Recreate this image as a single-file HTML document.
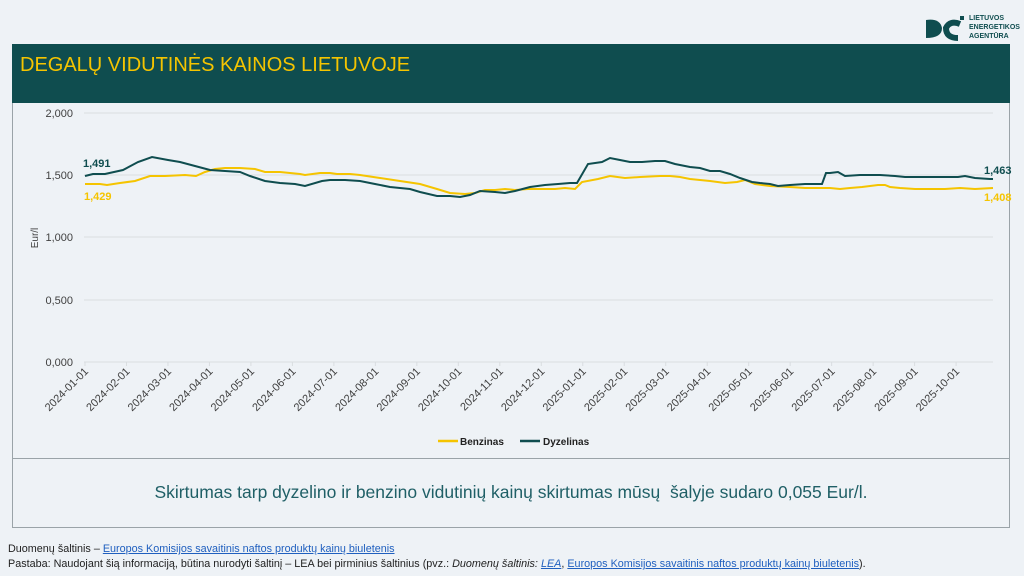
<!DOCTYPE html>
<html><head><meta charset="utf-8"><style>
body{margin:0;width:1024px;height:576px;background:#eef2f6;font-family:"Liberation Sans",sans-serif;position:relative;overflow:hidden}
.box{position:absolute;left:12px;width:998px;border:1px solid #9aa3a8;box-sizing:border-box}
</style></head><body>
<div class="box" style="top:44px;height:415px;"></div>
<div class="box" style="top:458px;height:70px;"></div>
<div style="position:absolute;left:12px;top:44px;width:998px;height:59px;background:#0f4d4f"></div>
<div style="position:absolute;left:20px;top:54px;color:#f5c400;font-size:20px;">DEGALŲ VIDUTINĖS KAINOS LIETUVOJE</div>
<svg style="position:absolute;left:920px;top:12px" width="50" height="30"><path d="M6 26 L6 8 Q20 6 22 16 Q22 26 6 26Z" fill="#0f4d4f"/><path d="M40 12 Q30 8 26 16 Q26 26 38 26" stroke="#0f4d4f" stroke-width="6" fill="none"/><rect x="40" y="4" width="4" height="4" fill="#0f4d4f"/></svg>
<div style="position:absolute;left:969px;top:14px;font-size:7px;line-height:9px;font-weight:bold;color:#0f4d4f">LIETUVOS<br>ENERGETIKOS<br>AGENTŪRA</div>
<svg style="position:absolute;left:0;top:0" width="1024" height="576" font-family="Liberation Sans, sans-serif">
<g stroke="#d9dde0" stroke-width="1">
<line x1="84" x2="993" y1="113" y2="113"/><line x1="84" x2="993" y1="175" y2="175"/><line x1="84" x2="993" y1="237" y2="237"/><line x1="84" x2="993" y1="300" y2="300"/><line x1="84" x2="993" y1="362" y2="362"/>
</g>
<g font-size="11" fill="#404040" text-anchor="end">
<text x="73" y="117">2,000</text><text x="73" y="179">1,500</text><text x="73" y="241">1,000</text><text x="73" y="304">0,500</text><text x="73" y="366">0,000</text>
</g>
<text transform="translate(38,238) rotate(-90)" font-size="10" fill="#404040" text-anchor="middle">Eur/l</text>
<g font-size="11" fill="#404040" text-anchor="end" id="xl"></g>
<polyline fill="none" stroke="#f5c400" stroke-width="2" points="85,184 100,184 107,185 120,183 135,181 150,176 165,176 185,175 196,176 205,172 215,169 225,168 240,168 255,169 265,172 280,172 300,174 305,175 320,173 330,173 337,174 350,174 360,175 380,178 400,181 420,184 437,189 450,193 465,194 475,193 485,190 495,190 505,189 515,190 528,189 540,189 555,189 565,188 575,189 582,182 598,179 610,176 625,178 640,177 660,176 670,176 680,177 690,179 710,181 725,183 737,182 745,180 755,184 770,186 790,187 805,188 815,188 830,188 840,189 850,188 862,187 878,185 885,185 890,187 900,188 915,189 930,189 945,189 960,188 975,189 993,188"/>
<polyline fill="none" stroke="#0f4d4f" stroke-width="2" points="85,176 93,174 105,174 123,170 138,162 152,157 168,160 180,162 195,166 210,170 225,171 240,172 250,176 265,181 280,183 295,184 305,186 322,181 330,180 345,180 360,181 375,184 390,187 410,189 420,192 437,196 450,196 460,197 470,195 480,191 495,192 505,193 515,191 530,187 545,185 558,184 570,183 577,183 588,164 602,162 610,158 620,160 630,162 642,162 655,161 665,161 675,164 690,167 700,168 710,171 720,171 730,174 740,178 752,182 760,183 770,184 778,186 790,185 805,184 815,184 822,184 826,173 830,173 838,172 845,176 860,175 880,175 895,176 905,177 920,177 935,177 958,177 965,176 975,178 990,179 993,179"/>
<g font-size="11" font-weight="bold">
<text x="83" y="167" fill="#0f4d4f">1,491</text><text x="84" y="200" fill="#f5c400">1,429</text>
<text x="984" y="174" fill="#0f4d4f">1,463</text><text x="984" y="201" fill="#f5c400">1,408</text>
</g>
<line x1="438" x2="458" y1="441" y2="441" stroke="#f5c400" stroke-width="2.5"/>
<text x="460" y="445" font-size="10" font-weight="bold" fill="#222">Benzinas</text>
<line x1="520" x2="540" y1="441" y2="441" stroke="#0f4d4f" stroke-width="2.5"/>
<text x="543" y="445" font-size="10" font-weight="bold" fill="#222">Dyzelinas</text>
</svg>
<div style="position:absolute;left:12px;width:998px;top:482px;text-align:center;font-size:17.5px;color:#1f5f66">Skirtumas tarp dyzelino ir benzino vidutinių kainų skirtumas mūsų&nbsp; šalyje sudaro 0,055 Eur/l.</div>
<div style="position:absolute;left:8px;top:542px;font-size:10.8px;color:#222;line-height:15px;white-space:nowrap">Duomenų šaltinis – <span style="color:#1f5fbf;text-decoration:underline">Europos Komisijos savaitinis naftos produktų kainų biuletenis</span><br>Pastaba: Naudojant šią informaciją, būtina nurodyti šaltinį – LEA bei pirminius šaltinius (pvz.: <i>Duomenų šaltinis: <span style="color:#1f5fbf;text-decoration:underline">LEA</span></i>, <span style="color:#1f5fbf;text-decoration:underline">Europos Komisijos savaitinis naftos produktų kainų biuletenis</span>).</div>
<script>
var g=document.getElementById('xl'),s='';
for(var i=0;i<22;i++){var y=2024+Math.floor(i/12),m=i%12+1;var x=85+i*41.48;
s+='<line x1="'+x+'" x2="'+x+'" y1="362" y2="366" stroke="#d9dde0"/>';
s+='<text transform="translate('+(x+4)+',372) rotate(-45)">'+y+'-'+(m<10?'0':'')+m+'-01</text>';}
g.innerHTML=s;
</script>
</body></html>
